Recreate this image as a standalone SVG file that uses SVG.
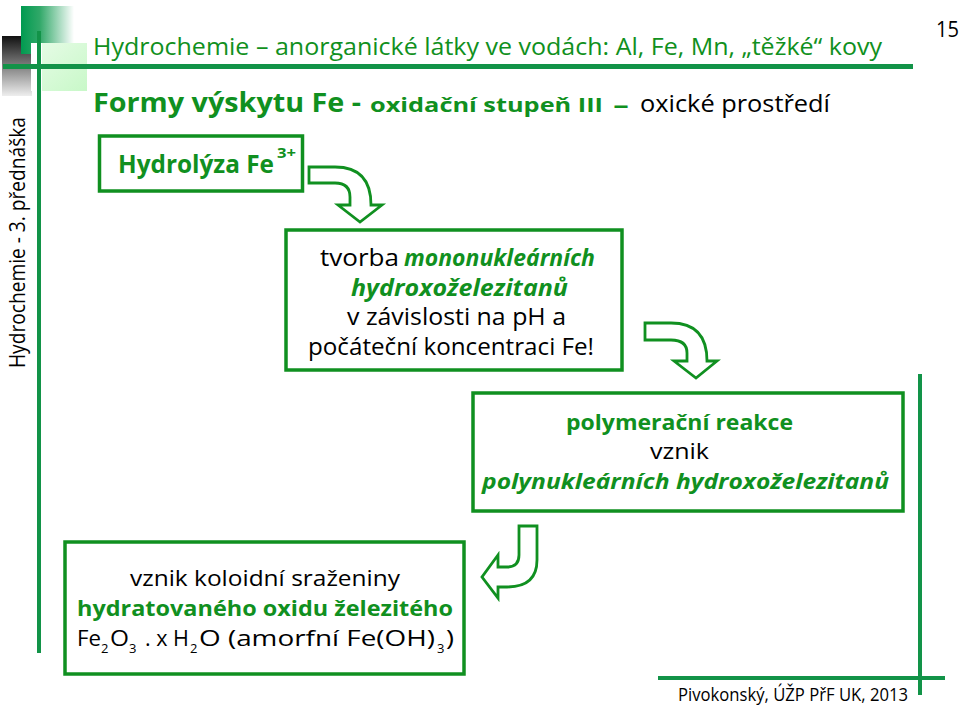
<svg xmlns="http://www.w3.org/2000/svg" width="959" height="706" viewBox="0 0 959 706">
<style>
text{font-family:"Open Sans","DejaVu Sans",sans-serif;fill:#000}
.g{fill:#109020}
.b{font-weight:700}
.i{font-style:italic;font-weight:700}
.box{fill:#fff;stroke:#109020;stroke-width:3.5}
.arrow{fill:#fff;stroke:#109020;stroke-width:2.800;stroke-linejoin:miter}
.rule{fill:#129348}
</style>
<defs>
<linearGradient id="dg" x1="0" x2="1" y1="0" y2="0"><stop offset="0" stop-color="#009a50"/><stop offset="0.35" stop-color="#30a868"/><stop offset="1" stop-color="#fff"/></linearGradient>
<linearGradient id="gr" x1="0" x2="0" y1="0" y2="1"><stop offset="0" stop-color="#111"/><stop offset="1" stop-color="#eee"/></linearGradient>
<linearGradient id="lg" x1="0" x2="1" y1="0" y2="1"><stop offset="0" stop-color="#e8fce8"/><stop offset="1" stop-color="#c8f8c8"/></linearGradient>
</defs>
<g id="decor">
<rect x="2" y="36" width="30" height="60" fill="url(#gr)"/>
<rect x="21" y="6" width="53" height="48" fill="url(#dg)"/>
<rect x="31" y="43" width="56" height="48" fill="url(#lg)"/>
<rect x="31" y="43" width="11" height="48" fill="#fff"/>
<rect class="rule" x="37" y="31" width="4" height="622"/>
<rect class="rule" x="3" y="64" width="910" height="5"/>
<rect class="rule" x="918" y="374" width="4" height="321"/>
<rect class="rule" x="658" y="676" width="287" height="4"/>
</g>
<g id="header">
<text class="g" x="93" y="55" font-size="24" textLength="789" lengthAdjust="spacingAndGlyphs">Hydrochemie – anorganické látky ve vodách: Al, Fe, Mn, „těžké“ kovy</text>
<text x="936" y="37" font-size="21" textLength="23" lengthAdjust="spacingAndGlyphs">15</text>
<text class="g b" x="93" y="112" font-size="26" textLength="268" lengthAdjust="spacingAndGlyphs">Formy výskytu Fe -</text>
<text class="g b" x="370" y="112" font-size="20" textLength="233" lengthAdjust="spacingAndGlyphs">oxidační stupeň III</text>
<text class="g b" x="613" y="112" font-size="20" textLength="16" lengthAdjust="spacingAndGlyphs">-</text>
<text x="640" y="112" font-size="23" textLength="190" lengthAdjust="spacingAndGlyphs">oxické prostředí</text>
<text transform="translate(25 368) rotate(-90)" font-size="21" textLength="251" lengthAdjust="spacingAndGlyphs">Hydrochemie - 3. přednáška</text>
</g>
<g id="connectors">
<path class="arrow" d="M309 167H335Q371 167 371 205H382L360 222L338 205H350V197Q350 183 335 183H309Z"/>
<path class="arrow" d="M645 323H671Q707 323 707 361H717L696 378L674 361H687V353Q687 340 671 340H645Z"/>
<path class="arrow" d="M519 526H537V560Q537 587 507 587H498V598L482 577L498 555V567H507Q519 567 519 555Z"/>
</g>
<g id="node-hydrolyza">
<rect class="box" x="99.500" y="136" width="203" height="55"/>
<text class="g b" x="118" y="173" font-size="25" textLength="156" lengthAdjust="spacingAndGlyphs">Hydrolýza Fe</text>
<text class="g b" x="277" y="158" font-size="14" textLength="19" lengthAdjust="spacingAndGlyphs">3+</text>
</g>
<g id="node-mono">
<rect class="box" x="286" y="230" width="336" height="140"/>
<text x="320" y="266" font-size="23" textLength="79" lengthAdjust="spacingAndGlyphs">tvorba</text>
<text class="g i" x="404" y="266" font-size="23" textLength="191" lengthAdjust="spacingAndGlyphs">mononukleárních</text>
<text class="g i" x="351" y="296" font-size="23" textLength="217" lengthAdjust="spacingAndGlyphs">hydroxoželezitanů</text>
<text x="347" y="325" font-size="23" textLength="219" lengthAdjust="spacingAndGlyphs">v závislosti na pH a</text>
<text x="308" y="355" font-size="23" textLength="286" lengthAdjust="spacingAndGlyphs">počáteční koncentraci Fe!</text>
</g>
<g id="node-poly">
<rect class="box" x="473" y="393" width="430" height="118"/>
<text class="g b" x="566" y="430" font-size="22" textLength="227" lengthAdjust="spacingAndGlyphs">polymerační reakce</text>
<text x="650" y="459" font-size="22" textLength="59" lengthAdjust="spacingAndGlyphs">vznik</text>
<text class="g i" x="482" y="489" font-size="22" textLength="407" lengthAdjust="spacingAndGlyphs">polynukleárních hydroxoželezitanů</text>
</g>
<g id="node-koloid">
<rect class="box" x="65" y="542" width="399" height="132"/>
<text x="130" y="586" font-size="22" textLength="270" lengthAdjust="spacingAndGlyphs">vznik koloidní sraženiny</text>
<text class="g b" x="77" y="616" font-size="22" textLength="376" lengthAdjust="spacingAndGlyphs">hydratovaného oxidu železitého</text>
<text x="77" y="646" font-size="22" textLength="24" lengthAdjust="spacingAndGlyphs">Fe</text>
<text x="101" y="653" font-size="13">2</text>
<text x="110" y="646" font-size="22" textLength="19" lengthAdjust="spacingAndGlyphs">O</text>
<text x="129" y="653" font-size="13">3</text>
<text x="145" y="646" font-size="22" textLength="44" lengthAdjust="spacingAndGlyphs">. x H</text>
<text x="190" y="653" font-size="13">2</text>
<text x="199" y="646" font-size="22" textLength="236" lengthAdjust="spacingAndGlyphs">O (amorfní Fe(OH)</text>
<text x="437" y="653" font-size="13">3</text>
<text x="446" y="646" font-size="22" textLength="8" lengthAdjust="spacingAndGlyphs">)</text>
</g>
<g id="footer">
<text x="678" y="701" font-size="18" textLength="230" lengthAdjust="spacingAndGlyphs">Pivokonský, ÚŽP PřF UK, 2013</text>
</g>
</svg>
